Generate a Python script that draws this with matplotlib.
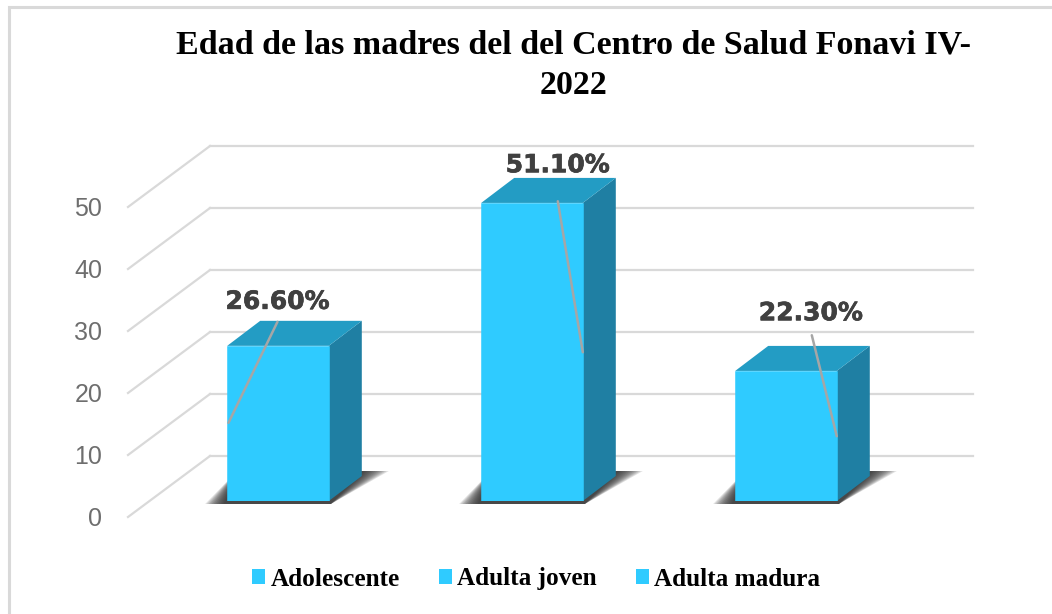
# -*- coding: UTF-8 -*-

import matplotlib
matplotlib.use('Agg')
import matplotlib.pyplot as plt
import matplotlib.patheffects as pe
from matplotlib.patches import Patch, Polygon, Rectangle
from matplotlib.transforms import Affine2D

W, H = 1052, 614

categories = ['Adolescente', 'Adulta joven', 'Adulta madura']
values = [26.6, 51.1, 22.3]
labels = ['26.60%', '51.10%', '22.30%']
y_ticks = [0, 10, 20, 30, 40, 50]
title = 'Edad de las madres del del Centro de Salud Fonavi IV-\n2022'

FRONT = '#2FCBFF'
TOP = '#239CC4'
SIDE = '#1F7FA3'
GRID = '#D9D9D9'
BAR_W = 0.4
DEPTH = (33, 25)     # bar depth in pixels
WALL = (82, 61)      # floor depth in pixels

# leader ends: bar side (x, y in data), label centre and leader start (pixels from that point)
leader_xy = [(-0.195, 13.4), (1.2, 25.5), (2.2, 11.1)]
leader_text = [(49, 121), (-25, 187), (-26, 123)]
leader_start = [(49, 101), (-25, 151), (-25, 101)]


def px_axes(fig, left, right, top, bottom):
    return fig.add_axes([left / W, 1 - bottom / H, (right - left) / W, (bottom - top) / H])


fig = plt.figure(figsize=(W / 100, H / 100), dpi=100)

# outer chart border
fig.add_artist(Rectangle((9 / W, -0.02), 1.2, 1 - 7 / H + 0.02, transform=fig.transFigure,
                         fill=False, ec='#D9D9D9', lw=2.2))

# wall and floor, the front plane carries the tick labels
wall = px_axes(fig, 128, 891, 207, 517)
wall.set_xlim(0, 1)
wall.set_ylim(0, 50)
wall.patch.set_alpha(0)
for s in wall.spines.values():
    s.set_visible(False)
wall.set_xticks([])
wall.set_yticks(y_ticks)
wall.tick_params(left=False, pad=15, labelsize=18, labelcolor='#6E6E6E')
for t in wall.get_yticklabels():
    t.set_family('Liberation Sans')

to_back = wall.transData + Affine2D().translate(*WALL)
for v in y_ticks:
    wall.plot([0, 1], [v, v], color=GRID, lw=1.6, transform=to_back, clip_on=False)
    p0 = wall.transData.transform((0, v))
    wall.plot([p0[0], p0[0] + WALL[0]], [p0[1], p0[1] + WALL[1]], color=GRID, lw=1.6,
              transform=None, clip_on=False)

# bars, with their own scale since they stand part way into the floor
ax = px_axes(fig, 151, 913, 151, 501)
ax.set_xlim(-0.5, 2.5)
ax.set_ylim(0, 60)
ax.axis('off')

to_depth = ax.transData + Affine2D().translate(*DEPTH)
x_pos = list(range(len(values)))
for x, v in zip(x_pos, values):
    l, r = x - BAR_W / 2, x + BAR_W / 2
    # soft floor shadow, stacked thin layers so it fades outwards
    a = ax.transData.transform((l, 0))
    b = ax.transData.transform((r, 0))
    for i in range(12):
        grow = 1 - i / 12
        shadow = Polygon([(a[0] - 2 - 20 * grow, a[1] - 3), (b[0] + 2, b[1] - 3),
                          (b[0] + 34 + 26 * grow, b[1] + 30), (a[0] + 10, b[1] + 30)],
                         closed=True, fc='#2A2A2A', ec='none', alpha=0.14, transform=None,
                         clip_on=False, zorder=1)
        ax.add_patch(shadow)
    ax.add_patch(Polygon([ax.transData.transform((r, 0)), ax.transData.transform((r, v)),
                          to_depth.transform((r, v)), to_depth.transform((r, 0))],
                         closed=True, fc=SIDE, ec='none', transform=None, clip_on=False, zorder=2))
    ax.add_patch(Polygon([ax.transData.transform((l, v)), ax.transData.transform((r, v)),
                          to_depth.transform((r, v)), to_depth.transform((l, v))],
                         closed=True, fc=TOP, ec='none', transform=None, clip_on=False, zorder=2))
ax.bar(x_pos, values, width=BAR_W, color=FRONT, ec=FRONT, lw=0.4, zorder=3)

# data labels with leader lines
for lab, xy, off, st in zip(labels, leader_xy, leader_text, leader_start):
    ax.annotate('', xy=xy, xytext=st, textcoords='offset pixels',
                arrowprops=dict(arrowstyle='-', color='#A6A6A6', lw=1.8, shrinkA=0, shrinkB=0),
                zorder=4)
    ax.annotate(lab, xy=xy, xytext=off, textcoords='offset pixels', ha='center', va='center',
                fontsize=18, fontweight='bold', family='DejaVu Sans', color='#404040', zorder=5,
                path_effects=[pe.withStroke(linewidth=0.5, foreground='#404040')])

fig.text(574 / W, 1 - 65.5 / H, title, ha='center', va='center', fontsize=24.5, fontweight='bold',
         family='Liberation Serif', color='black', linespacing=1.38)

handles = [Patch(fc=FRONT, ec='none') for c in categories]
fig.legend(handles, categories, loc='center', bbox_to_anchor=(536 / W, 1 - 579 / H), ncols=3,
           frameon=False, handlelength=0.52, handleheight=0.52, handletextpad=0.2, columnspacing=1.55,
           prop=dict(family='Liberation Serif', weight='bold', size=18.2))

fig.savefig('out.png', dpi=100, facecolor='white')
